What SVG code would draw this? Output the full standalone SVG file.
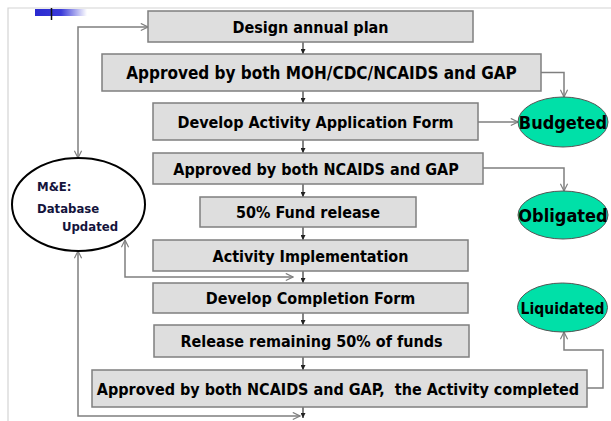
<svg xmlns="http://www.w3.org/2000/svg" width="611" height="421" viewBox="0 0 611 421">
<style>
.box rect{fill:#dedede;stroke:#7f7f7f;stroke-width:1.5}
.box text{font-family:'DejaVu Sans Condensed','DejaVu Sans',sans-serif;font-stretch:condensed;font-weight:bold;font-size:16px;fill:#000;text-anchor:middle}
.st ellipse{fill:#00e0a8;stroke:#555;stroke-width:1}
.st text{font-family:'DejaVu Sans Condensed','DejaVu Sans',sans-serif;font-stretch:condensed;font-weight:bold;fill:#000;text-anchor:middle}
.me text{font-family:'DejaVu Sans Condensed','DejaVu Sans',sans-serif;font-stretch:condensed;font-weight:bold;font-size:13px;fill:#14143c}
.dn{stroke:#333;stroke-width:1.2;fill:none;marker-end:url(#ah)}
.gl{stroke:#7f7f7f;stroke-width:1.5;fill:none;marker-end:url(#oa)}
.gb{stroke:#7f7f7f;stroke-width:1.5;fill:none;marker-end:url(#oa);marker-start:url(#oas)}
</style>
<defs>
<linearGradient id="bl" x1="0" y1="0" x2="1" y2="0">
<stop offset="0" stop-color="#2a2ad0"/><stop offset="0.5" stop-color="#3a3ad8"/><stop offset="1" stop-color="#ffffff"/>
</linearGradient>
<marker id="ah" viewBox="0 0 8 8" refX="8" refY="4" markerWidth="5" markerHeight="5" markerUnits="userSpaceOnUse" orient="auto">
<path d="M0,0 L8,4 L0,8 Z" fill="#222"/>
</marker>
<marker id="oa" viewBox="0 0 10 10" refX="9" refY="5" markerWidth="9" markerHeight="9" markerUnits="userSpaceOnUse" orient="auto">
<path d="M1,1 L9,5 L1,9" fill="none" stroke="#7f7f7f" stroke-width="1.3"/>
</marker>
<marker id="oas" viewBox="0 0 10 10" refX="9" refY="5" markerWidth="9" markerHeight="9" markerUnits="userSpaceOnUse" orient="auto-start-reverse">
<path d="M1,1 L9,5 L1,9" fill="none" stroke="#7f7f7f" stroke-width="1.3"/>
</marker>
</defs>
<rect width="611" height="421" fill="#fff"/>
<path d="M8,421 V8 H611" fill="none" stroke="#d4d4d4" stroke-width="1.2"/>
<rect x="35" y="9" width="52" height="7" fill="url(#bl)"/>
<line x1="51.5" y1="8" x2="51.5" y2="20" stroke="#111" stroke-width="1.5"/>

<g id="connectors">
<line class="dn" x1="303" y1="42" x2="303" y2="54"/>
<line class="dn" x1="303" y1="91" x2="303" y2="103"/>
<line class="dn" x1="303" y1="140" x2="303" y2="153"/>
<line class="dn" x1="303" y1="184" x2="303" y2="197"/>
<line class="dn" x1="303" y1="227" x2="303" y2="240"/>
<line class="dn" x1="303" y1="271" x2="303" y2="283"/>
<line class="dn" x1="303" y1="313" x2="303" y2="325"/>
<line class="dn" x1="303" y1="357" x2="303" y2="370"/>
<line class="dn" x1="303" y1="407" x2="303" y2="418"/>
<path class="gl" d="M541,72.5 H564 V97"/>
<path class="gl" d="M478,122 H518"/>
<path class="gl" d="M483,168 H564 V191"/>
<path class="gl" d="M587,388 H603 V350 H564 V332"/>
<path class="gb" d="M78,158 V27 H148"/>
<path class="gb" d="M125,240 V277 H293"/>
<path class="gb" d="M78,251 V416 H300"/>
</g>

<g id="n1" class="box"><rect x="148" y="11" width="325" height="31"/><text x="310.5" y="32.5">Design annual plan</text></g>
<g id="n2" class="box"><rect x="102" y="54" width="439" height="37"/><text x="321.5" y="78.5" font-size="17" style="font-size:17px">Approved by both MOH/CDC/NCAIDS and GAP</text></g>
<g id="n3" class="box"><rect x="153" y="103" width="325" height="37"/><text x="315.5" y="127.5">Develop Activity Application Form</text></g>
<g id="n4" class="box"><rect x="153" y="153" width="330" height="31"/><text x="316" y="174.5">Approved by both NCAIDS and GAP</text></g>
<g id="n5" class="box"><rect x="200" y="197" width="216" height="30"/><text x="308" y="218">50% Fund release</text></g>
<g id="n6" class="box"><rect x="153" y="240" width="315" height="31"/><text x="310.5" y="261.5">Activity Implementation</text></g>
<g id="n7" class="box"><rect x="153" y="283" width="315" height="30"/><text x="310.5" y="304">Develop Completion Form</text></g>
<g id="n8" class="box"><rect x="154" y="325" width="315" height="32"/><text x="311.5" y="347">Release remaining 50% of funds</text></g>
<g id="n9" class="box"><rect x="92" y="370" width="495" height="37"/><text x="338" y="394.5" xml:space="preserve">Approved by both NCAIDS and GAP,  the Activity completed</text></g>

<g id="me" class="me">
<ellipse cx="78.5" cy="204.5" rx="66.5" ry="46.5" fill="#fff" stroke="#000" stroke-width="2"/>
<text x="37" y="191">M&amp;E:</text>
<text x="37" y="213">Database</text>
<text x="62" y="231">Updated</text>
</g>
<g id="budgeted" class="st"><ellipse cx="563" cy="122" rx="45" ry="25"/><text x="563" y="129" font-size="18">Budgeted</text></g>
<g id="obligated" class="st"><ellipse cx="563" cy="215" rx="45" ry="24"/><text x="563" y="222" font-size="18">Obligated</text></g>
<g id="liquidated" class="st"><ellipse cx="562.5" cy="307.5" rx="45" ry="24.5"/><text x="562.5" y="313.5" font-size="15.5">Liquidated</text></g>
</svg>
